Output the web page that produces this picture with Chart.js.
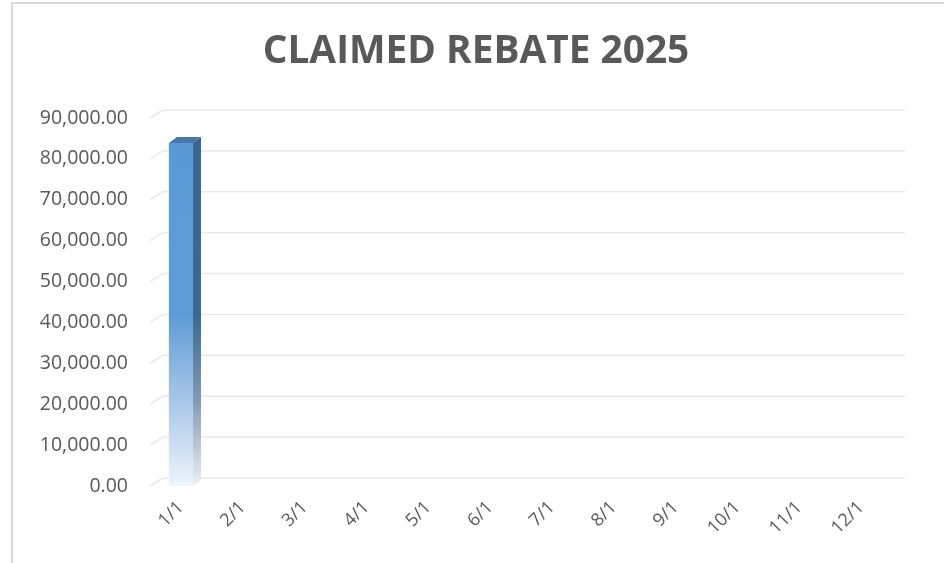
<!DOCTYPE html>
<html>
<head>
<meta charset="utf-8">
<script src="https://cdn.jsdelivr.net/npm/chart.js@4/dist/chart.umd.min.js"></script>
<style>
  html, body { margin: 0; padding: 0; background: #ffffff; }
  body { width: 944px; height: 563px; overflow: hidden; position: relative; }
  #frame { position: absolute; left: 11px; top: 2px; width: 1000px; height: 600px;
           border-left: 2px solid #D9D9D9; border-top: 2px solid #D9D9D9; box-sizing: border-box; }
  #wrap { position: absolute; left: 0; top: 0; width: 944px; height: 563px; }
</style>
</head>
<body>
<div id="frame"></div>
<div id="wrap"><canvas id="c" width="944" height="563"></canvas></div>
<script>
// ---- data ----
const titleText = 'CLAIMED REBATE 2025';
const categories = ['1/1','2/1','3/1','4/1','5/1','6/1','7/1','8/1','9/1','10/1','11/1','12/1'];
const claimedRebate = [83900, null, null, null, null, null, null, null, null, null, null, null];
const yMin = 0;
const yMax = 90000;
const yStep = 10000;

// ---- style ----
const textColor = '#595959';
const FONT = '"Open Sans", "DejaVu Sans", sans-serif';
const DEPTH_WALL = { dx: 13, dy: 8 };
const DEPTH_BAR = { dx: 8, dy: 6 };

// fit title to reference width
const mctx = document.createElement('canvas').getContext('2d');
mctx.font = 'bold 100px ' + FONT;
const titleSize = Math.round(100 * 427 / mctx.measureText(titleText).width * 10) / 10;
const titlePadTop = 52 - titleSize * 0.6;
const titlePadBottom = 118 - titlePadTop - titleSize * 1.2;

function frontGradient(ctx) {
  const chart = ctx.chart;
  const y = chart.scales && chart.scales.y;
  if (!chart.chartArea || !y || ctx.raw == null) return '#5B9BD5';
  const top = y.getPixelForValue(ctx.raw);
  const base = y.getPixelForValue(0);
  const g = chart.ctx.createLinearGradient(0, top, 0, base);
  g.addColorStop(0, '#5B9BD5');
  g.addColorStop(0.5, '#5E9CD5');
  g.addColorStop(0.75, '#A7C6E8');
  g.addColorStop(1, '#EEF4FB');
  return g;
}

const depthPlugin = {
  id: 'depth',
  beforeDatasetsDraw(chart) {
    const { ctx, chartArea, scales } = chart;
    const ys = scales.y;
    ctx.save();
    ctx.strokeStyle = '#E9E9E9';
    ctx.lineWidth = 1.5;
    ys.ticks.forEach(t => {
      const py = ys.getPixelForValue(t.value);
      ctx.beginPath();
      ctx.moveTo(chartArea.left, py);
      ctx.lineTo(chartArea.left + DEPTH_WALL.dx, py - DEPTH_WALL.dy);
      ctx.lineTo(chartArea.right + DEPTH_WALL.dx, py - DEPTH_WALL.dy);
      ctx.stroke();
    });
    ctx.restore();
  },
  afterDatasetsDraw(chart) {
    const { ctx } = chart;
    const meta = chart.getDatasetMeta(0);
    meta.data.forEach((el, i) => {
      const v = chart.data.datasets[0].data[i];
      if (v == null || v <= 0) return;
      const p = el.getProps(['x', 'y', 'base', 'width'], true);
      const l = p.x - p.width / 2, r = p.x + p.width / 2;
      const top = p.y, base = p.base;
      const { dx, dy } = DEPTH_BAR;
      ctx.save();
      const gs = ctx.createLinearGradient(0, top, 0, base);
      gs.addColorStop(0, '#3A6590');
      gs.addColorStop(0.5, '#3C6792');
      gs.addColorStop(0.75, '#8299B4');
      gs.addColorStop(1, '#EDEFF2');
      ctx.fillStyle = gs;
      ctx.beginPath();
      ctx.moveTo(r, top);
      ctx.lineTo(r + dx, top - dy);
      ctx.lineTo(r + dx, base - dy);
      ctx.lineTo(r, base);
      ctx.closePath();
      ctx.fill();
      ctx.fillStyle = '#4677A8';
      ctx.beginPath();
      ctx.moveTo(l, top);
      ctx.lineTo(l + dx, top - dy);
      ctx.lineTo(r + dx, top - dy);
      ctx.lineTo(r, top);
      ctx.closePath();
      ctx.fill();
      ctx.restore();
    });
  }
};

new Chart(document.getElementById('c'), {
  type: 'bar',
  data: {
    labels: categories,
    datasets: [{
      label: 'Claimed Rebate',
      data: claimedRebate,
      backgroundColor: frontGradient,
      borderWidth: 0,
      barPercentage: 0.39,
      categoryPercentage: 1,
      yAxisID: 'y'
    }]
  },
  options: {
    responsive: false,
    animation: false,
    events: [],
    layout: { padding: { left: 8, right: 0, top: 0, bottom: 0 } },
    plugins: {
      legend: { display: false },
      tooltip: { enabled: false },
      title: {
        display: true,
        text: titleText,
        color: textColor,
        font: { family: FONT, size: titleSize, weight: 'bold', lineHeight: 1.2 },
        padding: { top: titlePadTop, bottom: titlePadBottom }
      }
    },
    scales: {
      x: {
        grid: { display: false, drawTicks: false },
        border: { display: false },
        ticks: {
          color: textColor,
          font: { family: FONT, size: 18 },
          minRotation: 45,
          maxRotation: 45,
          autoSkip: false,
          padding: 11
        },
        afterFit(s) { s.height = 563 - 486; }
      },
      y: {
        min: yMin,
        max: yMax,
        grid: { display: false, drawTicks: false },
        border: { display: false },
        ticks: {
          stepSize: yStep,
          color: textColor,
          font: { family: FONT, size: 19.5 },
          padding: 22,
          callback: v => Number(v).toLocaleString('en-US', { minimumFractionDigits: 2, maximumFractionDigits: 2 })
        },
        afterFit(s) { s.width = 142; }
      },
      yRight: {
        position: 'right',
        min: yMin,
        max: yMax,
        grid: { display: false, drawTicks: false },
        border: { display: false },
        ticks: { display: false },
        afterFit(s) { s.width = 52; }
      }
    }
  },
  plugins: [depthPlugin]
});
</script>
</body>
</html>
